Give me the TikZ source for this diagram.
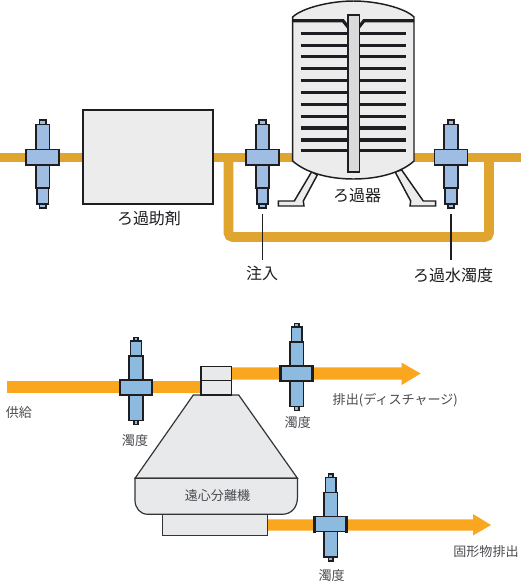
\documentclass[tikz,border=0pt]{standalone}
\usepackage{fontspec}
\setmainfont{Noto Sans CJK JP}
\definecolor{pipeA}{HTML}{E0A52E}
\definecolor{pipeB}{HTML}{FBA61F}
\definecolor{sensA}{HTML}{9FBCE2}
\definecolor{sensB}{HTML}{8DBBE0}
\definecolor{vessel}{HTML}{ECECEC}
\definecolor{vesselB}{HTML}{E8E9EB}
\definecolor{column}{HTML}{DADADA}
\definecolor{ink}{HTML}{1E1E22}
\definecolor{softink}{HTML}{4A4A50}
\tikzset{
  partA/.style={draw=ink,line width=1.3,fill=sensA},
  partB/.style={draw=ink,line width=1.1,fill=sensB},
  vesselpart/.style={draw=ink,line width=1.1,fill=vessel},
  machinepart/.style={draw=softink!70!black,line width=0.9,fill=vesselB},
  bar/.style={draw=ink,line width=2.4},
  pipetop/.style={draw=pipeA,line width=7.2},
  labelA/.style={text=ink,font=\fontsize{12}{13}\selectfont,inner sep=0pt},
  labelB/.style={text=softink,font=\fontsize{9.8}{11}\selectfont,inner sep=0pt},
  leader/.style={draw=ink,line width=0.9},
}
\newcommand{\sensorA}[1]{%
  \begin{scope}[shift={(#1,0)}]
    \draw[partA] (-3.2,120) rectangle (3.2,124.5);
    \draw[partA] (-6.8,124.5) rectangle (6.8,150);
    \draw[partA] (-3.2,204) rectangle (3.2,208);
    \draw[partA] (-5.8,188) rectangle (5.8,204);
    \draw[partA] (-6.8,165) rectangle (6.8,188);
    \draw[partA] (-16.5,149.5) rectangle (16.5,165);
  \end{scope}}
\newcommand{\sensorB}[2]{%
  \begin{scope}[shift={(#1,#2)}]
    \draw[partB] (-2.2,-42.5) rectangle (2.2,-39);
    \draw[partB] (-5.4,-39) rectangle (5.4,-24);
    \draw[partB] (-6.8,-24) rectangle (6.8,0);
    \draw[partB] (-2.2,40.5) rectangle (2.2,44.5);
    \draw[partB] (-6.8,15) rectangle (6.8,40.5);
    \draw[partB] (-16,0) rectangle (16,15);
    \draw[ink,line width=2] (-16,-1) -- (-16,16);
    \draw[ink,line width=2] (16,-1) -- (16,16);
  \end{scope}}
\begin{document}
\begin{tikzpicture}[x=0.75pt,y=-0.75pt]
\useasboundingbox (0,0) rectangle (521,583);
\draw[pipetop] (0,157.5) -- (521,157.5);
\draw[pipetop,rounded corners=3] (228.5,157.5) -- (228.5,237) -- (489,237) -- (489,157.5);
\node[draw=ink,line width=1.3,fill=vessel,inner sep=0pt,anchor=north west,
  minimum width=97.5pt,minimum height=70.5pt] (aid) at (82,109) {};
\draw[vesselpart] (311.7,171.7) -- (317.3,175) -- (303.3,201) -- (304,206) -- (278.3,206) -- (278.3,201) -- (294.3,201) -- cycle;
\draw[vesselpart] (395,171.7) -- (401.7,170) -- (423.3,201) -- (435.7,201) -- (435.7,206) -- (410,206) -- (410.7,201) -- cycle;
\draw[vesselpart] (292.7,20) -- (292.7,17) .. controls (302,8) and (330,1) .. (353.5,1) .. controls (377,1) and (405,8) .. (414,17) -- (414,161) .. controls (402,172) and (380,179) .. (353.5,179) .. controls (327,179) and (305,172) .. (292.7,161) -- cycle;
\draw[bar] (292.7,20.7) -- (343,20.7) -- (348,27);
\draw[bar] (414,20.7) -- (364,20.7) -- (359,27);
\foreach \yy in {33.3,45.3,56.7,68.7,80.3,92.3,104.3,116.3,128,140,150.7}{
  \draw[bar] (300.7,\yy) -- (405.7,\yy);
}
\draw[draw=ink,line width=1.3,fill=column] (348.3,15) rectangle (359.5,172);
\sensorA{42.7}
\sensorA{262.5}
\sensorA{451}
\node[labelA] (lblaid) at (149,218) {ろ過助剤};
\node[labelA] (lblfilter) at (357,196) {ろ過器};
\node[labelA] (lblinject) at (262,273) {注入};
\node[labelA] (lblturb) at (453,275) {ろ過水濁度};
\coordinate (leadA) at (262.5,214);
\coordinate (leadAend) at (262.5,260);
\coordinate (leadB) at (451,214);
\coordinate (leadBend) at (451,260);
\draw[leader] (leadA) -- (leadAend);
\draw[leader] (leadB) -- (leadBend);
\fill[pipeB] (7,381) rectangle (202,393);
\fill[pipeB] (231,367.3) -- (401.7,367.3) -- (401.7,362.7) -- (420.7,373.5) -- (401.7,385) -- (401.7,379.6) -- (231,379.6) -- cycle;
\fill[pipeB] (266,519.3) -- (473,519.3) -- (473,514) -- (491,525) -- (473,535.5) -- (473,530.7) -- (266,530.7) -- cycle;
\draw[machinepart] (162.7,510) rectangle (267.3,535.7);
\draw[machinepart] (193.3,395) -- (238.7,395) -- (297.5,478.3) -- (135,478.3) -- cycle;
\draw[machinepart] (135,478.3) -- (297.5,478.3) -- (297.5,497) .. controls (297.5,508) and (291,514.3) .. (282,514.3) -- (148,514.3) .. controls (140,514.3) and (135,508) .. (135,500) -- cycle;
\draw[draw=ink,line width=1.1,fill=vesselB] (201,366.7) rectangle (231.7,380.7);
\draw[draw=ink,line width=1.1,fill=vesselB] (201,380.7) rectangle (231.7,395);
\sensorB{136}{380}
\sensorB{296.7}{366}
\sensorB{330.7}{516.7}
\node[labelB] (lblcent) at (217.5,495.7) {遠心分離機};
\node[labelB] (lblfeed) at (19,413) {供給};
\node[labelB] (lblt1) at (135,440.7) {濁度};
\node[labelB] (lblt2) at (297.8,423) {濁度};
\node[labelB] (lblt3) at (331.7,576) {濁度};
\node[labelB] (lbldis) at (395.3,400.7) {排出(ディスチャージ)};
\node[labelB] (lblsol) at (486,551.7) {固形物排出};
\end{tikzpicture}
\end{document}
